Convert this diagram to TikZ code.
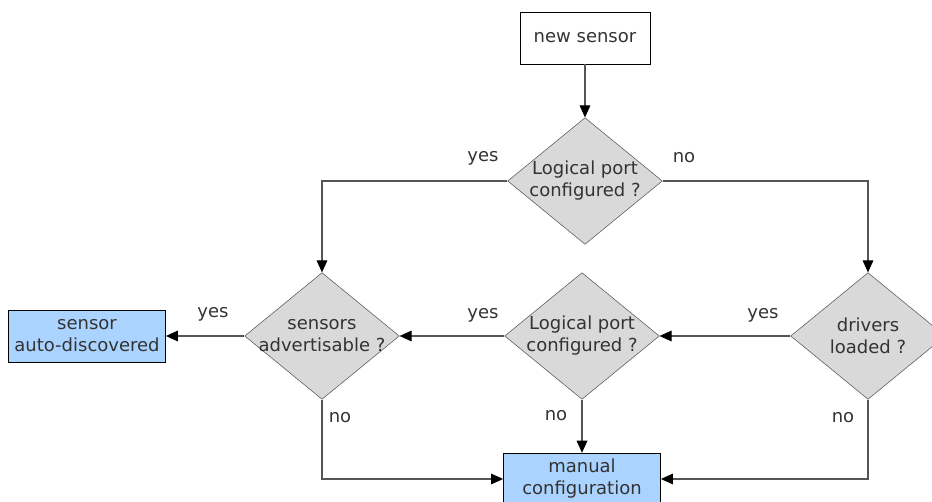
\documentclass[tikz,border=0pt]{standalone}
\usepackage{fontspec}
\setmainfont{DejaVu Sans}
\usetikzlibrary{shapes.geometric,arrows.meta}
\definecolor{boxblue}{RGB}{170,212,255}
\definecolor{txtgray}{RGB}{51,51,51}
\definecolor{linegray}{RGB}{85,85,85}
\begin{document}
\begin{tikzpicture}[x=0.75pt, y=-0.75pt,
    txt/.style={text=txtgray, align=center, font=\fontsize{13.5}{16.5}\selectfont},
    startbox/.style={draw=black, thin, fill=white, minimum width=97.5pt, minimum height=39pt, txt},
    endbox/.style={draw=black, thin, fill=boxblue, minimum width=118pt, minimum height=39pt, txt},
    decision/.style={diamond, draw=linegray, thin, fill=gray!30, minimum width=116pt, minimum height=95pt, inner sep=0pt},
    arr/.style={draw=linegray, line width=0.8pt, -{Triangle[length=9pt, width=8pt, color=black]}}]
  \useasboundingbox (0,0) rectangle (932,502);
  % boxes
  \node [startbox] (new) at (585,38) {new sensor};
  \node [endbox] (auto) at (87,336) {sensor\\auto-discovered};
  \node [endbox] (man) at (582,479) {manual\\configuration};
  % questions
  \node [decision, label={[txt]center:{Logical port\\configured ?}}] (q1) at (585,181) {};
  \node [decision, label={[txt]center:{sensors\\advertisable ?}}] (adv) at (322,336) {};
  \node [decision, label={[txt]center:{Logical port\\configured ?}}] (q2) at (582,336) {};
  \node [decision, label={[txt]center:{drivers\\loaded ?}}] (drv) at (868,336) {};
  % connectors
  \draw [arr] (new) -- (q1.north);
  \draw [arr] (q1.west) -| (adv.north);
  \draw [arr] (q1.east) -| (drv.north);
  \draw [arr] (drv.west) -- (q2.east);
  \draw [arr] (q2.west) -- (adv.east);
  \draw [arr] (adv.west) -- (auto.east);
  \draw [arr] (q2.south) -- (man.north);
  \draw [arr] (adv.south) |- (man.west);
  \draw [arr] (drv.south) |- (man.east);
  % answers
  \node [txt] (yes1) at (483,158) {yes};
  \node [txt] (no1) at (684,158) {no};
  \node [txt] (yes2) at (213,314) {yes};
  \node [txt] (yes3) at (483,315) {yes};
  \node [txt] (yes4) at (763,315) {yes};
  \node [txt] (no2) at (340,418) {no};
  \node [txt] (no3) at (556,416) {no};
  \node [txt] (no4) at (843,418) {no};
\end{tikzpicture}
\end{document}
